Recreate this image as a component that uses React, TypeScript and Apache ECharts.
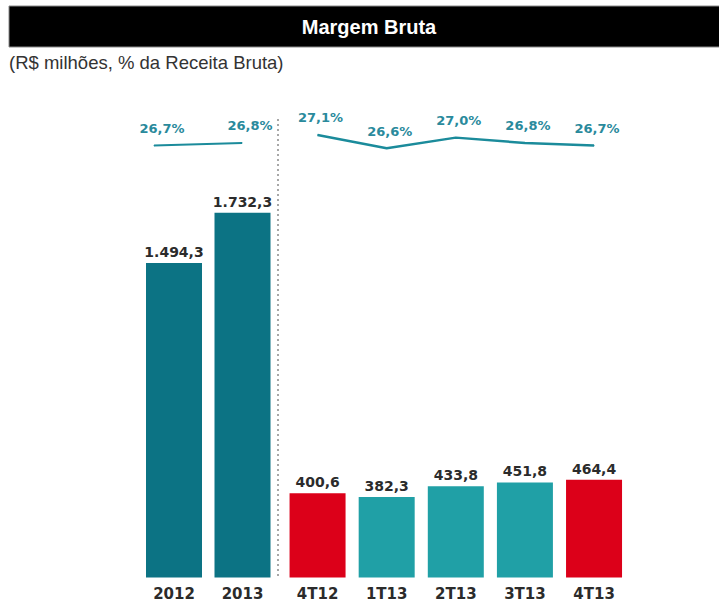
import React, { useEffect, useRef } from "react";
import * as echarts from "echarts";

const annualCategories = ["2012", "2013"];
const annualValues = [1494.3, 1732.3];
const annualMargins = [26.7, 26.8];

const quarterCategories = ["4T12", "1T13", "2T13", "3T13", "4T13"];
const quarterValues = [400.6, 382.3, 433.8, 451.8, 464.4];
const quarterMargins = [27.1, 26.6, 27.0, 26.8, 26.7];

const titleText = "Margem Bruta";
const subtitleText = "(R$ milhões, % da Receita Bruta)";

const COLOR_ANNUAL = "#0c7384";
const COLOR_QUARTER = "#20a0a6";
const COLOR_Q4 = "#dc0019";
const COLOR_LINE = "#1b8b9b";
const COLOR_PCT = "#2a8a9c";

function fmtBR(v: number, dec = 1): string {
  const [i, d] = v.toFixed(dec).split(".");
  const int = i.replace(/\B(?=(\d{3})+(?!\d))/g, ".");
  return d ? `${int},${d}` : int;
}

const BAR_MAX = 2268;
const PCT_MIN = 10.4;
const PCT_MAX = 28.42;

export default function App() {
  const ref = useRef<HTMLDivElement>(null);
  useEffect(() => {
    if (!ref.current) return;
    const chart = echarts.init(ref.current, undefined, { renderer: "svg" });
    const valueLabel = {
      show: true,
      position: "top" as const,
      distance: 4,
      fontFamily: "DejaVu Sans",
      fontWeight: "bold" as const,
      fontSize: 14,
      color: "#2b2b2b",
      formatter: (p: any) => fmtBR(p.value),
    };
    const pctLabel = {
      show: true,
      position: "top" as const,
      distance: 10,
      fontFamily: "DejaVu Sans",
      fontWeight: "bold" as const,
      fontSize: 13,
      color: COLOR_PCT,
      formatter: (p: any) => fmtBR(p.value) + "%",
    };
    const xLabel = {
      fontFamily: "DejaVu Sans",
      fontWeight: "bold" as const,
      fontSize: 15,
      color: "#2b2b2b",
      margin: 9,
    };
    const hiddenY = (min: number, max: number, gridIndex: number) => ({
      type: "value" as const,
      gridIndex,
      min,
      max,
      show: false,
      splitLine: { show: false },
    });
    const gridBase = { top: 100, height: 477.5, containLabel: false, outerBoundsMode: "none" };

    chart.setOption({
      animation: false,
      backgroundColor: "#ffffff",
      graphic: [
        {
          type: "rect",
          shape: { x: 9, y: 6, width: 712, height: 41 },
          style: { fill: "#000000", stroke: "#8a8a8a", lineWidth: 1 },
        },
        {
          type: "text",
          x: 369,
          y: 27,
          style: {
            text: titleText,
            fill: "#ffffff",
            font: "bold 20px 'Liberation Sans', Arial, sans-serif",
            align: "center",
            verticalAlign: "middle",
          },
        },
        {
          type: "text",
          x: 9,
          y: 62,
          style: {
            text: subtitleText,
            fill: "#333333",
            font: "18.5px 'Liberation Sans', Arial, sans-serif",
            align: "left",
            verticalAlign: "middle",
          },
        },
        {
          type: "line",
          shape: { x1: 278, y1: 119, x2: 278, y2: 577 },
          style: { stroke: "#8a8a8a", lineWidth: 1.5, lineDash: [2, 3] },
        },
      ],
      grid: [
        { ...gridBase, left: 139.75, width: 137 },
        { ...gridBase, left: 283, width: 345.6 },
        { ...gridBase, left: 154, width: 88 },
      ],
      xAxis: [
        {
          type: "category",
          gridIndex: 0,
          data: annualCategories,
          axisLine: { show: false },
          axisTick: { show: false },
          axisLabel: xLabel,
        },
        {
          type: "category",
          gridIndex: 1,
          data: quarterCategories,
          axisLine: { show: false },
          axisTick: { show: false },
          axisLabel: xLabel,
        },
        {
          type: "category",
          gridIndex: 2,
          data: annualCategories,
          boundaryGap: false,
          show: false,
        },
      ],
      yAxis: [
        hiddenY(0, BAR_MAX, 0),
        hiddenY(0, BAR_MAX, 1),
        hiddenY(PCT_MIN, PCT_MAX, 1),
        hiddenY(PCT_MIN, PCT_MAX, 2),
      ],
      series: [
        {
          type: "bar",
          name: "Margem Bruta anual",
          xAxisIndex: 0,
          yAxisIndex: 0,
          barWidth: 56,
          data: annualValues,
          itemStyle: { color: COLOR_ANNUAL },
          label: valueLabel,
        },
        {
          type: "bar",
          name: "Margem Bruta trimestral",
          xAxisIndex: 1,
          yAxisIndex: 1,
          barWidth: 56,
          data: quarterValues.map((v, i) => ({
            value: v,
            itemStyle: {
              color: quarterCategories[i].startsWith("4T") ? COLOR_Q4 : COLOR_QUARTER,
            },
          })),
          label: valueLabel,
        },
        {
          type: "line",
          name: "% anual",
          xAxisIndex: 2,
          yAxisIndex: 3,
          data: annualMargins,
          symbol: "circle",
          symbolSize: 1,
          showSymbol: true,
          itemStyle: { color: COLOR_LINE },
          lineStyle: { color: COLOR_LINE, width: 2 },
          label: { ...pctLabel, offset: [8, 0] },
        },
        {
          type: "line",
          name: "% trimestral",
          xAxisIndex: 1,
          yAxisIndex: 2,
          data: quarterMargins,
          symbol: "circle",
          symbolSize: 1,
          showSymbol: true,
          itemStyle: { color: COLOR_LINE },
          lineStyle: { color: COLOR_LINE, width: 2.5 },
          label: { ...pctLabel, offset: [3, 0] },
        },
      ],
    });
    return () => chart.dispose();
  }, []);
  return (
    <div
      ref={ref}
      style={{ position: "fixed", left: 0, top: 0, width: 719, height: 603 }}
    />
  );
}
